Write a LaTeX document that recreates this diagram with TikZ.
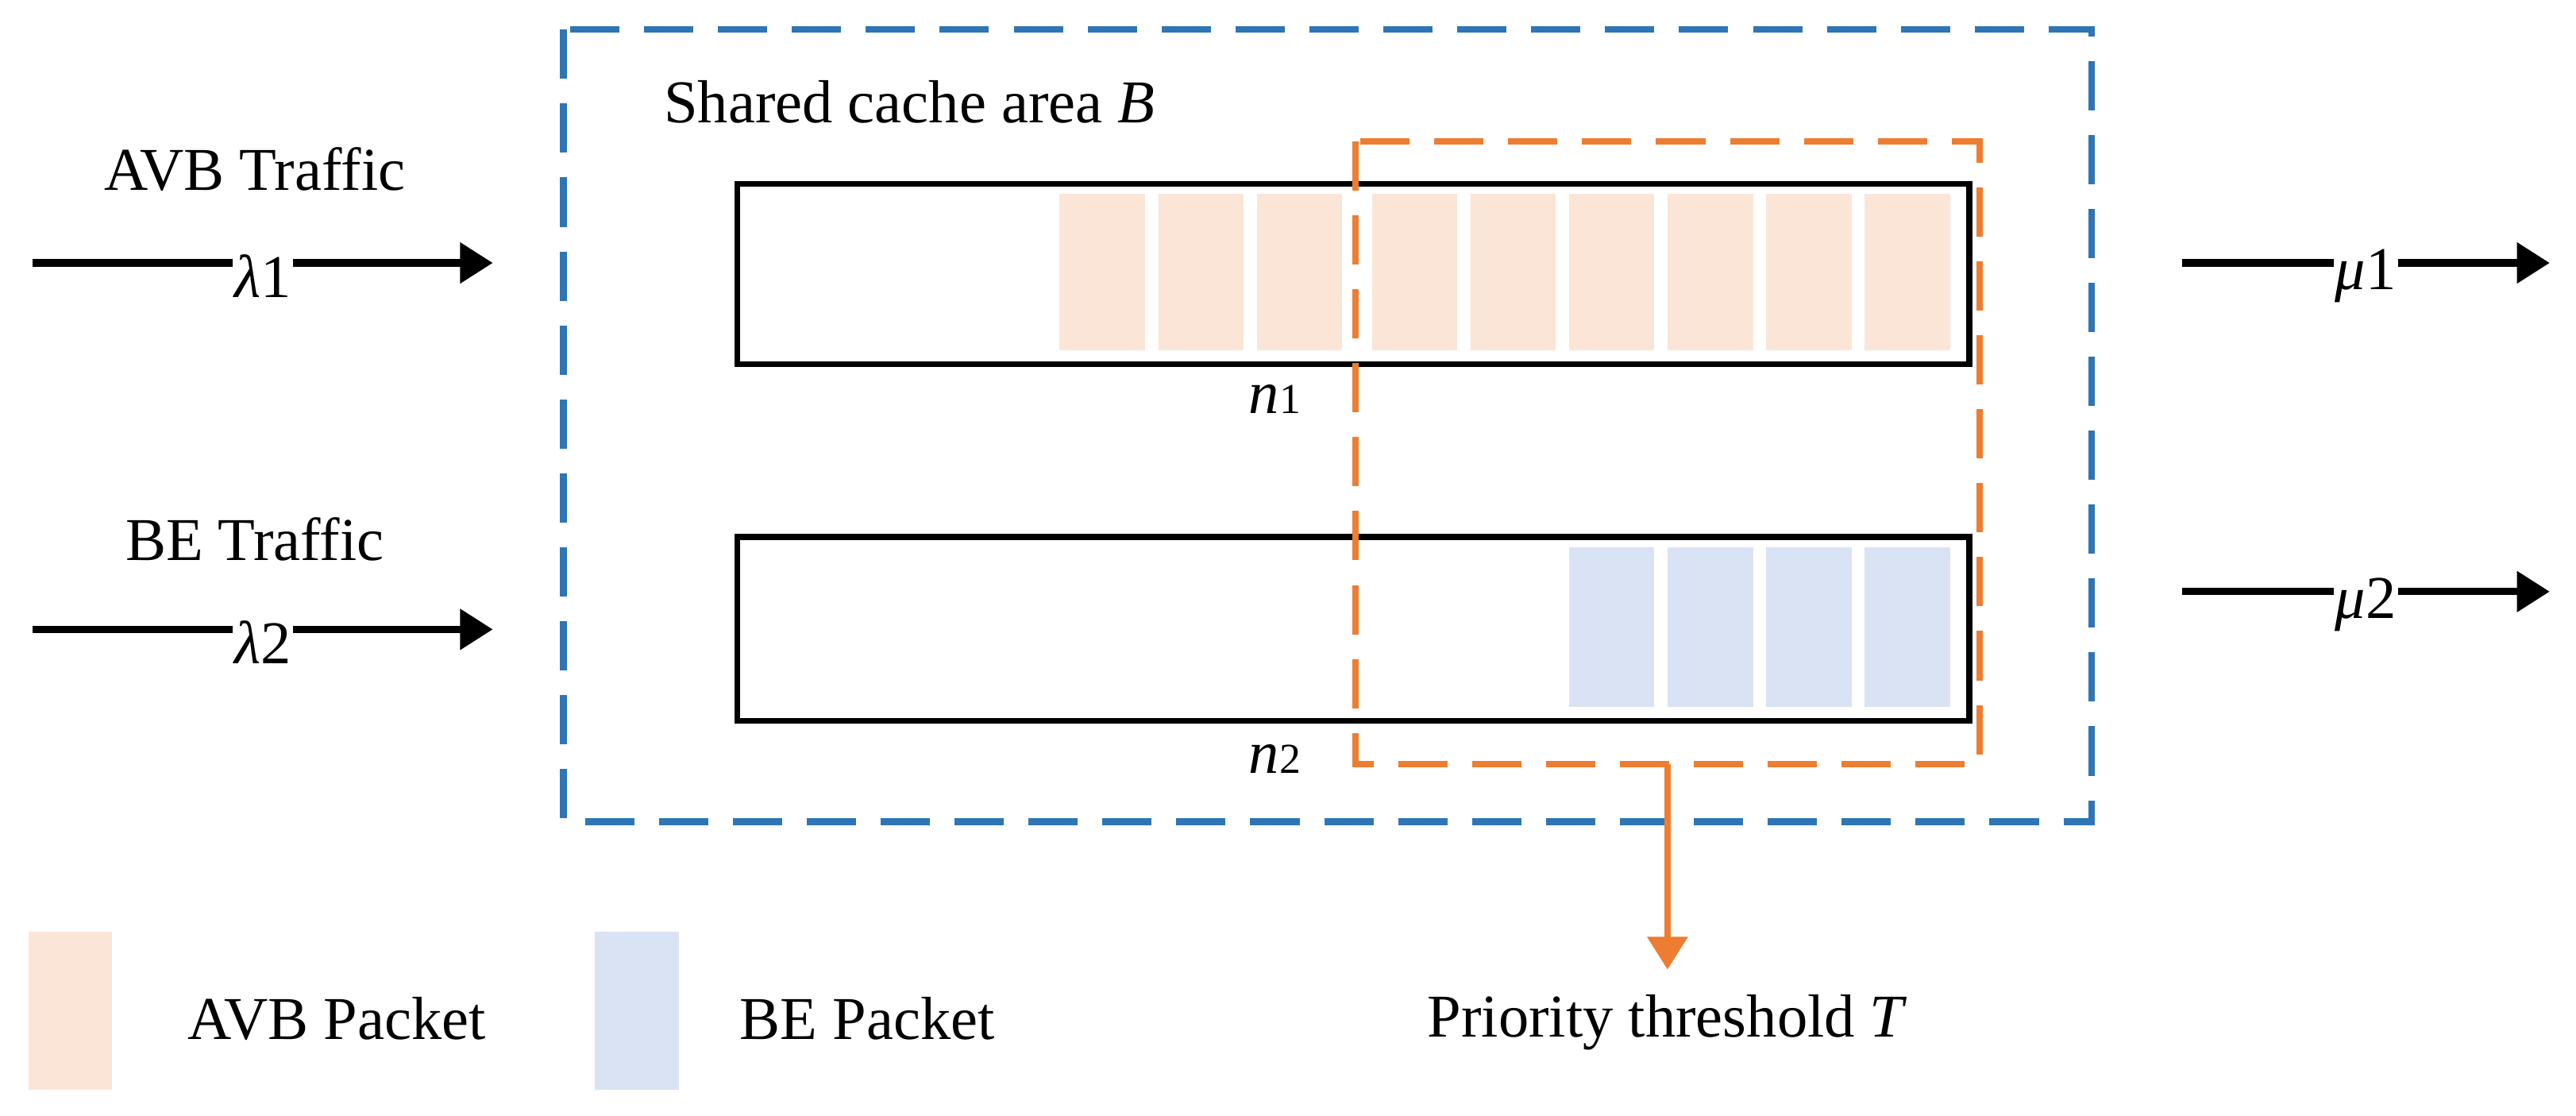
\documentclass[tikz,border=0pt]{standalone}
\usepackage{fontspec}
\setmainfont{Liberation Serif}
\usetikzlibrary{arrows.meta}
\definecolor{bblue}{RGB}{46,117,182}
\definecolor{oor}{RGB}{237,125,49}
\definecolor{avbf}{RGB}{251,229,214}
\definecolor{bef}{RGB}{218,227,243}
\begin{document}
\begin{tikzpicture}[x=1pt,y=-1pt,
  every node/.style={font=\fontsize{37}{42}\selectfont, inner sep=1pt},
  flow/.style={line width=4.5pt, -{Triangle[length=20pt,width=24pt]}},
  lab/.style={fill=white, inner sep=1pt},
  queue/.style={draw=black, line width=3.5pt},
  avb/.style={fill=avbf},
  be/.style={fill=bef}]
\useasboundingbox (0,0) rectangle (1568,679);
% shared area
\draw[bblue, line width=4pt, dash pattern=on 30pt off 15pt] (343,18) rectangle (1273,500);
\node[anchor=west] (shared) at (403,62) {Shared cache area \textit{B}};
% packets
\foreach \x in {645,705,765,835,895,955,1015,1075,1135} \fill[avbf] (\x,118) rectangle ++(52,95);
\foreach \x in {955,1015,1075,1135} \fill[bef] (\x,333) rectangle ++(52,97);
\node[queue, minimum width=750pt, minimum height=110pt, anchor=north west] (q1) at (447,110) {};
\node[queue, minimum width=750pt, minimum height=112pt, anchor=north west] (q2) at (447,325) {};
\node (n1) at (776,243) {\textit{n}\fontsize{26}{30}\selectfont 1};
\node (n2) at (776,462) {\textit{n}\fontsize{26}{30}\selectfont 2};
% threshold
\draw[oor, line width=4pt, dash pattern=on 30pt off 15pt] (825,86) rectangle (1205,465);
\coordinate (ts) at (1015,465);
\node (thr) at (1015,622) {Priority threshold \textit{T}};
\draw[oor, line width=4pt, -{Triangle[length=20pt,width=24pt]}] (ts) -- (1015,590);
% inputs
\node (avbt) at (155,103) {AVB Traffic};
\node (bet) at (155,328) {BE Traffic};
\coordinate (a1) at (20,160); \coordinate (a1e) at (300,160);
\coordinate (b1) at (20,383); \coordinate (b1e) at (300,383);
\draw[flow] (a1) -- (a1e);
\draw[flow] (b1) -- (b1e);
\node[lab] (l1) at (160,168) {\textit{λ}1};
\node[lab] (l2) at (160,391) {\textit{λ}2};
% outputs
\coordinate (m1) at (1328,160); \coordinate (m1e) at (1552,160);
\coordinate (m2) at (1328,360); \coordinate (m2e) at (1552,360);
\draw[flow] (m1) -- (m1e);
\draw[flow] (m2) -- (m2e);
\node[lab] (u1) at (1440,168) {\textit{μ}1};
\node[lab] (u2) at (1440,368) {\textit{μ}2};
% legend
\node[avb, minimum width=51pt, minimum height=96pt, anchor=north west] (la) at (17,567) {};
\node (lat) at (205,620) {AVB Packet};
\node[be, minimum width=51pt, minimum height=96pt, anchor=north west] (lb) at (362,567) {};
\node (lbt) at (528,620) {BE Packet};
\end{tikzpicture}
\end{document}
